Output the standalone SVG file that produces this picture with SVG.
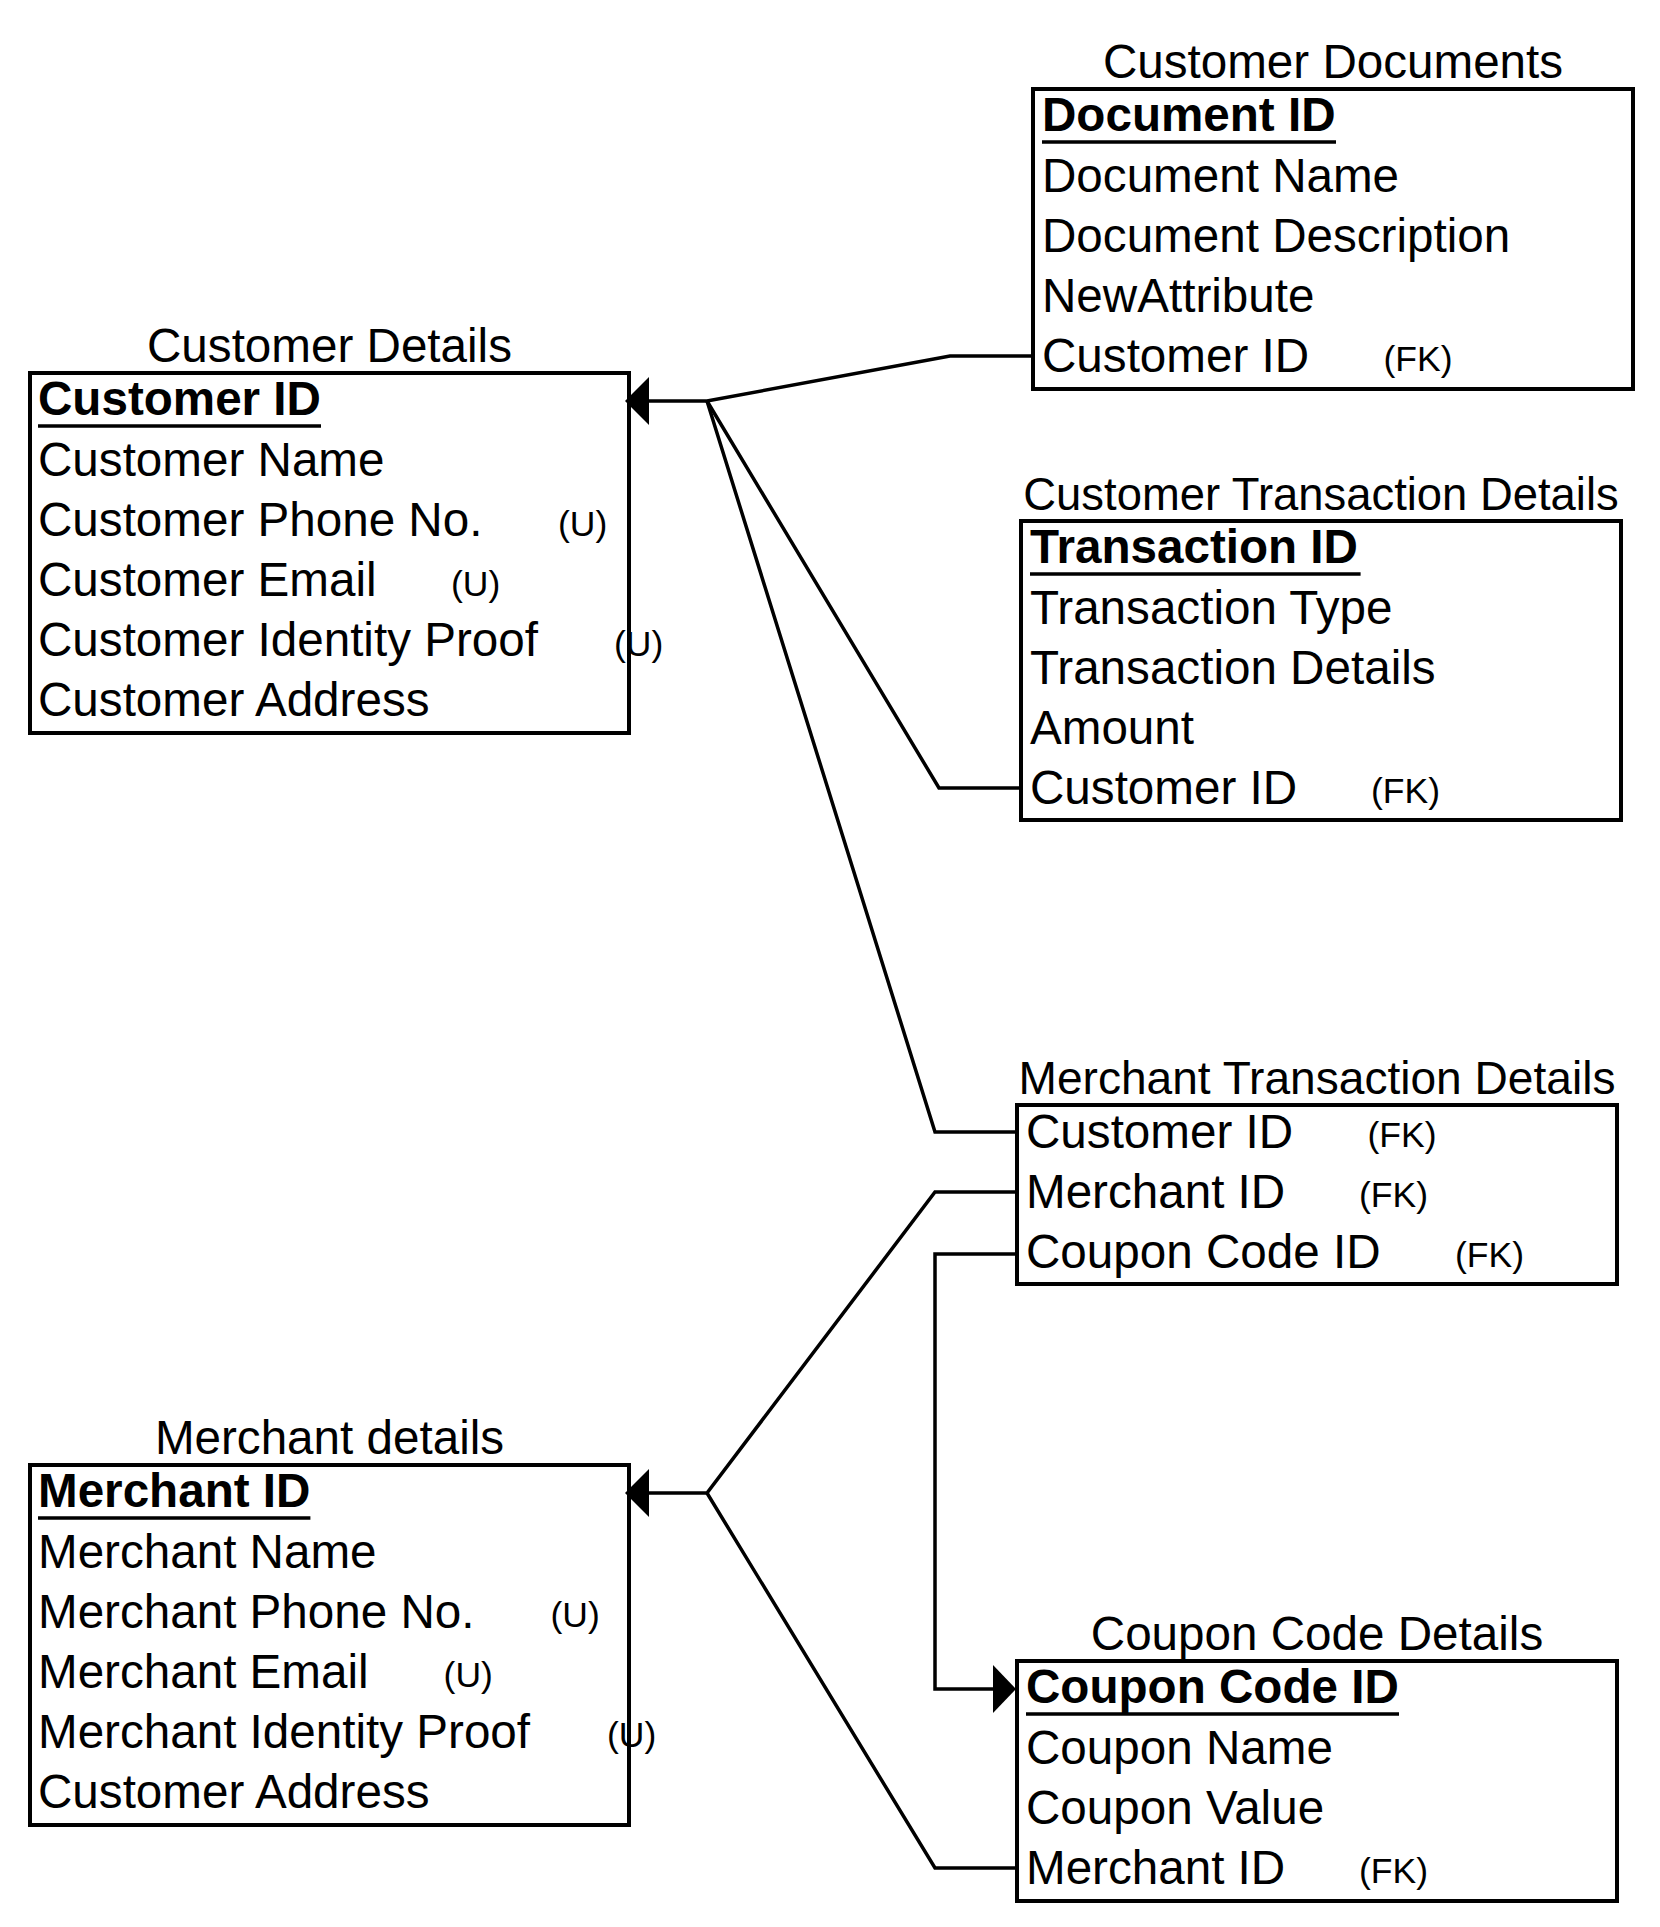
<svg xmlns="http://www.w3.org/2000/svg" width="1660" height="1927" viewBox="0 0 1660 1927">
<style>
.t{font-family:"Liberation Sans",Arial,Helvetica,sans-serif;font-size:47.6px;fill:#000}
.b{font-weight:bold}
.s{font-size:35.5px}
.c{text-anchor:middle}
.box{fill:none;stroke:#000;stroke-width:4}
.ul{stroke:#000;stroke-width:3.5}
.ln{fill:none;stroke:#000;stroke-width:3.5;stroke-linejoin:miter}
.ah{fill:#000;stroke:none}
</style>
<rect x="0" y="0" width="1660" height="1927" fill="#fff"/>

<g id="connectors">
  <polyline class="ln" points="648,401 707,401 950,356 1033,356"/>
  <polyline class="ln" points="707,401 939,788 1021,788"/>
  <polyline class="ln" points="707,401 935,1132 1017,1132"/>
  <polygon class="ah" points="625,401 649,377 649,425"/>
  <polyline class="ln" points="648,1493 707,1493 935,1192 1017,1192"/>
  <polyline class="ln" points="707,1493 935,1868 1017,1868"/>
  <polygon class="ah" points="625,1493 649,1469 649,1517"/>
  <polyline class="ln" points="1017,1254 935,1254 935,1689 995,1689"/>
  <polygon class="ah" points="1016,1689 993,1665 993,1713"/>
</g>

<g id="customer-details">
  <text class="t c" x="329.5" y="362">Customer Details</text>
  <rect class="box" x="30" y="373" width="599" height="360"/>
  <text class="t b" x="38" y="415">Customer ID</text>
  <line class="ul" x1="38" y1="426" x2="321" y2="426"/>
  <text class="t" x="38" y="476">Customer Name</text>
  <text class="t" x="38" y="536">Customer Phone No.</text>
  <text class="t s" x="558" y="536">(U)</text>
  <text class="t" x="38" y="596">Customer Email</text>
  <text class="t s" x="451" y="596">(U)</text>
  <text class="t" x="38" y="656">Customer Identity Proof</text>
  <text class="t s" x="614" y="656">(U)</text>
  <text class="t" x="38" y="716">Customer Address</text>
</g>

<g id="customer-documents">
  <text class="t c" x="1333" y="78">Customer Documents</text>
  <rect class="box" x="1033" y="89" width="600" height="300"/>
  <text class="t b" x="1042" y="131">Document ID</text>
  <line class="ul" x1="1042" y1="142" x2="1336" y2="142"/>
  <text class="t" x="1042" y="192">Document Name</text>
  <text class="t" x="1042" y="252">Document Description</text>
  <text class="t" x="1042" y="312">NewAttribute</text>
  <text class="t" x="1042" y="372">Customer ID</text>
  <text class="t s" x="1383.5" y="371">(FK)</text>
</g>

<g id="customer-transaction-details">
  <text class="t c" x="1321" y="510" style="font-size:45.4px">Customer Transaction Details</text>
  <rect class="box" x="1021" y="521" width="600" height="299"/>
  <text class="t b" x="1030" y="563">Transaction ID</text>
  <line class="ul" x1="1030" y1="574" x2="1360.6" y2="574"/>
  <text class="t" x="1030" y="624">Transaction Type</text>
  <text class="t" x="1030" y="684">Transaction Details</text>
  <text class="t" x="1030" y="744">Amount</text>
  <text class="t" x="1030" y="804">Customer ID</text>
  <text class="t s" x="1371" y="803">(FK)</text>
</g>

<g id="merchant-transaction-details">
  <text class="t c" x="1317" y="1094" style="font-size:46.1px">Merchant Transaction Details</text>
  <rect class="box" x="1017" y="1105" width="600" height="179"/>
  <text class="t" x="1026" y="1148">Customer ID</text>
  <text class="t s" x="1367.5" y="1147">(FK)</text>
  <text class="t" x="1026" y="1208">Merchant ID</text>
  <text class="t s" x="1359" y="1207">(FK)</text>
  <text class="t" x="1026" y="1268">Coupon Code ID</text>
  <text class="t s" x="1455" y="1267">(FK)</text>
</g>

<g id="merchant-details">
  <text class="t c" x="329.5" y="1454">Merchant details</text>
  <rect class="box" x="30" y="1465" width="599" height="360"/>
  <text class="t b" x="38" y="1507">Merchant ID</text>
  <line class="ul" x1="38" y1="1518" x2="310.4" y2="1518"/>
  <text class="t" x="38" y="1568">Merchant Name</text>
  <text class="t" x="38" y="1628">Merchant Phone No.</text>
  <text class="t s" x="550.5" y="1627">(U)</text>
  <text class="t" x="38" y="1688">Merchant Email</text>
  <text class="t s" x="443.6" y="1687">(U)</text>
  <text class="t" x="38" y="1748">Merchant Identity Proof</text>
  <text class="t s" x="607" y="1747">(U)</text>
  <text class="t" x="38" y="1808">Customer Address</text>
</g>

<g id="coupon-code-details">
  <text class="t c" x="1317" y="1650">Coupon Code Details</text>
  <rect class="box" x="1017" y="1661" width="600" height="240"/>
  <text class="t b" x="1026" y="1703">Coupon Code ID</text>
  <line class="ul" x1="1026" y1="1714" x2="1399" y2="1714"/>
  <text class="t" x="1026" y="1764">Coupon Name</text>
  <text class="t" x="1026" y="1824">Coupon Value</text>
  <text class="t" x="1026" y="1884">Merchant ID</text>
  <text class="t s" x="1359" y="1883">(FK)</text>
</g>
</svg>
